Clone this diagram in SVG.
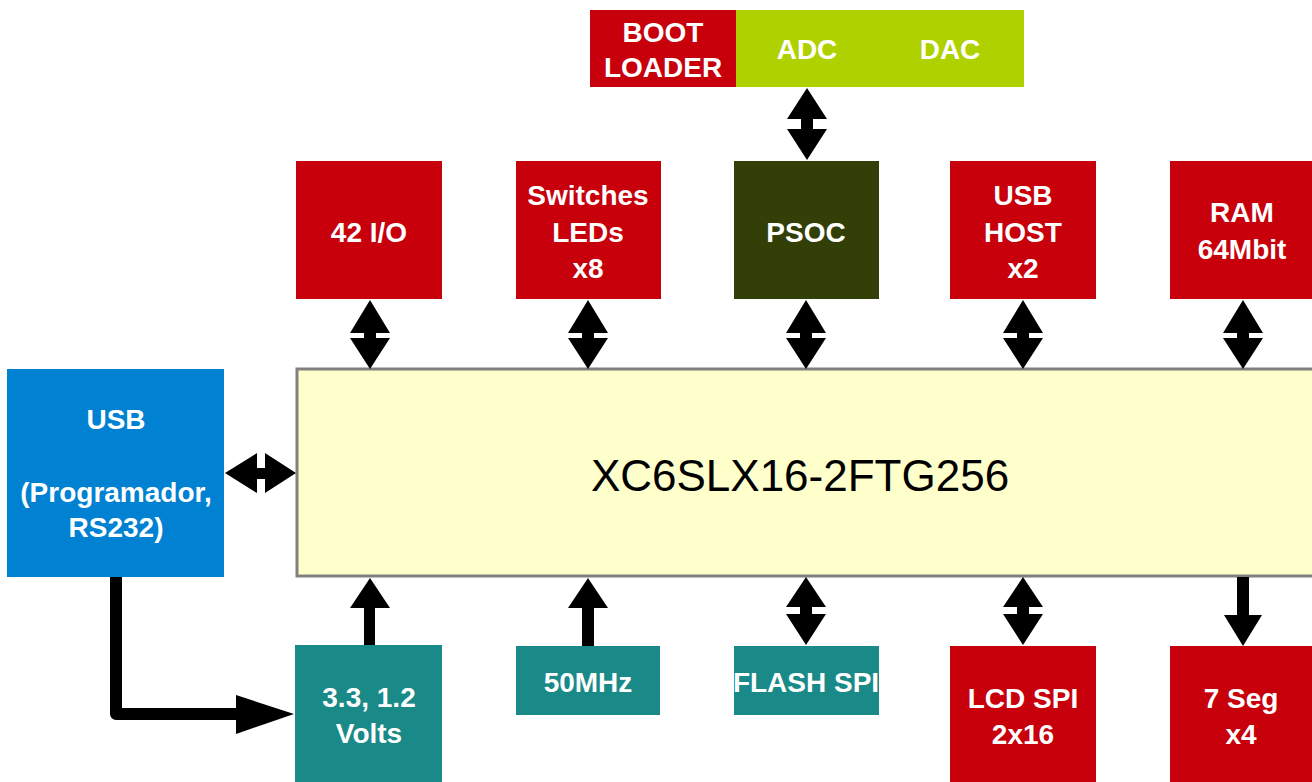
<svg xmlns="http://www.w3.org/2000/svg" width="1312" height="782" viewBox="0 0 1312 782">
<style>
.red{fill:#c7000b}
.teal{fill:#1a8a88}
.blue{fill:#0081d1}
.t{font-family:"Liberation Sans",Arial,sans-serif;font-weight:bold;font-size:28px;fill:#ffffff;text-anchor:middle}
.main{font-family:"Liberation Sans",Arial,sans-serif;font-size:44px;fill:#000000;text-anchor:middle}
.arr{fill:#000000}
</style>
<defs>
<polygon id="dv" points="0,0 20,33 6,33 6,38 20,38 0,69 -20,38 -6,38 -6,33 -20,33"/>
</defs>
<rect width="1312" height="782" fill="#ffffff"/>

<g id="bootloader"><rect class="red" x="590" y="10" width="146" height="77"/><text class="t" x="663" y="42">BOOT</text><text class="t" x="663" y="77">LOADER</text></g>
<g id="adcdac"><rect x="736" y="10" width="288" height="77" fill="#b0d100"/><text class="t" x="807" y="59">ADC</text><text class="t" x="950" y="59">DAC</text></g>

<g id="io42"><rect class="red" x="296" y="161" width="146" height="138"/><text class="t" x="369" y="242">42 I/O</text></g>
<g id="switches"><rect class="red" x="516" y="161" width="145" height="138"/><text class="t" x="588" y="205">Switches</text><text class="t" x="588" y="242">LEDs</text><text class="t" x="588" y="278">x8</text></g>
<g id="psoc"><rect x="734" y="161" width="145" height="138" fill="#323f06"/><text class="t" x="806" y="242">PSOC</text></g>
<g id="usbhost"><rect class="red" x="950" y="161" width="146" height="138"/><text class="t" x="1023" y="205">USB</text><text class="t" x="1023" y="242">HOST</text><text class="t" x="1023" y="278">x2</text></g>
<g id="ram"><rect class="red" x="1170" y="161" width="150" height="138"/><text class="t" x="1242" y="222">RAM</text><text class="t" x="1242" y="259">64Mbit</text></g>

<g id="fpga"><rect x="297" y="369" width="1030" height="207" fill="#ffffcc" stroke="#808080" stroke-width="3"/><text class="main" x="800" y="491">XC6SLX16-2FTG256</text></g>

<g id="usb"><rect class="blue" x="7" y="369" width="217" height="208"/><text class="t" x="116" y="429">USB</text><text class="t" x="116" y="502">(Programador,</text><text class="t" x="116" y="537">RS232)</text></g>

<g id="volts"><rect class="teal" x="295" y="645" width="147" height="140"/><text class="t" x="369" y="707">3.3, 1.2</text><text class="t" x="369" y="743">Volts</text></g>
<g id="mhz"><rect class="teal" x="516" y="646" width="144" height="69"/><text class="t" x="588" y="692">50MHz</text></g>
<g id="flash"><rect class="teal" x="734" y="646" width="145" height="69"/><text class="t" x="806" y="692">FLASH SPI</text></g>
<g id="lcd"><rect class="red" x="950" y="646" width="146" height="140"/><text class="t" x="1023" y="708">LCD SPI</text><text class="t" x="1023" y="744">2x16</text></g>
<g id="seg"><rect class="red" x="1170" y="646" width="150" height="140"/><text class="t" x="1241" y="708">7 Seg</text><text class="t" x="1241" y="744">x4</text></g>

<g id="connectors">
<polygon class="arr" points="807,88 827,119 813,119 813,129 827,129 807,160 787,129 801,129 801,119 787,119"/>
<use href="#dv" x="370" y="300"/>
<use href="#dv" x="588" y="300"/>
<use href="#dv" x="806" y="300"/>
<use href="#dv" x="1023" y="300"/>
<use href="#dv" x="1243" y="300"/>
<polygon class="arr" points="225,473 257,453 257,468 265,468 265,453 296,473 265,493 265,479 257,479 257,493"/>
<polygon class="arr" points="370,578 390,608 375,608 375,645 364,645 364,608 350,608"/>
<polygon class="arr" points="588,578 608,608 594,608 594,646 582,646 582,608 568,608"/>
<polygon class="arr" points="806,577 826,607 812,607 812,614 826,614 806,645 786,614 800,614 800,607 786,607"/>
<polygon class="arr" points="1023,577 1043,607 1029,607 1029,614 1043,614 1023,645 1003,614 1017,614 1017,607 1003,607"/>
<polygon class="arr" points="1237,577 1249,577 1249,615 1262,615 1243,646 1224,615 1237,615"/>
<path d="M116,577 V714 H240" fill="none" stroke="#000" stroke-width="12" stroke-linejoin="round"/>
<polygon class="arr" points="236,695 294,714 236,734"/>
</g>
</svg>
